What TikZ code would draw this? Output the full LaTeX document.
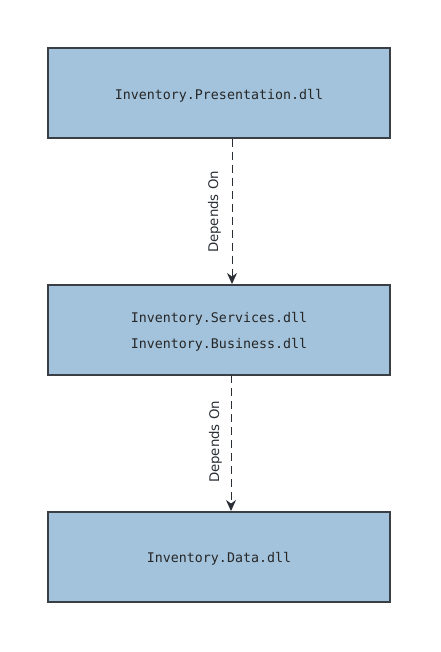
\documentclass[tikz,border=0pt]{standalone}
\usepackage{fontspec}
\setmonofont{DejaVu Sans Mono}
\newfontfamily\labelfont{DejaVu Sans}
\usetikzlibrary{arrows.meta}
\definecolor{boxfill}{HTML}{A3C3DC}
\definecolor{boxline}{HTML}{3A3F45}
\definecolor{linecol}{HTML}{2A2F36}
\begin{document}
\begin{tikzpicture}[x=1pt,y=-1pt,
  layerbox/.style={draw=boxline, line width=1.3pt, fill=boxfill, minimum width=342pt, minimum height=90pt, inner sep=0pt, text depth=0pt, font=\ttfamily\fontsize{13.3}{26}\selectfont, align=center, text=black!85},
  dep/.style={draw=linecol, line width=1pt, dash pattern=on 8pt off 5pt, -{Stealth[length=11pt,width=10pt]}},
  deplabel/.style={font=\labelfont\fontsize{13.3}{15}\selectfont, text=linecol, rotate=90}]
\useasboundingbox (0,0) rectangle (440,652);
\fill[white] (0,0) rectangle (440,652);
\node[layerbox] (pres) at (219,93) {};
\node[layerbox] (serv) at (219,330) {};
\node[layerbox] (data) at (219,557) {};
\node[font=\ttfamily\fontsize{13.3}{26}\selectfont, text=black!85] (t1) at (219,95.5) {Inventory.Presentation.dll};
\node[font=\ttfamily\fontsize{13.3}{26}\selectfont, text=black!85, align=center] (t2) at (219,331.5) {Inventory.Services.dll\\Inventory.Business.dll};
\node[font=\ttfamily\fontsize{13.3}{26}\selectfont, text=black!85] (t3) at (219,558.5) {Inventory.Data.dll};
\coordinate (p1) at (pres.south -| 232,0);
\coordinate (p2) at (232,284);
\coordinate (q1) at (231,375);
\coordinate (q2) at (231,511);
\draw[dep] (p1) -- (p2);
\draw[dep] (q1) -- (q2);
\node[deplabel] (l1) at (214.5,212) {Depends On};
\node[deplabel] (l2) at (215.5,442) {Depends On};
\end{tikzpicture}
\end{document}
